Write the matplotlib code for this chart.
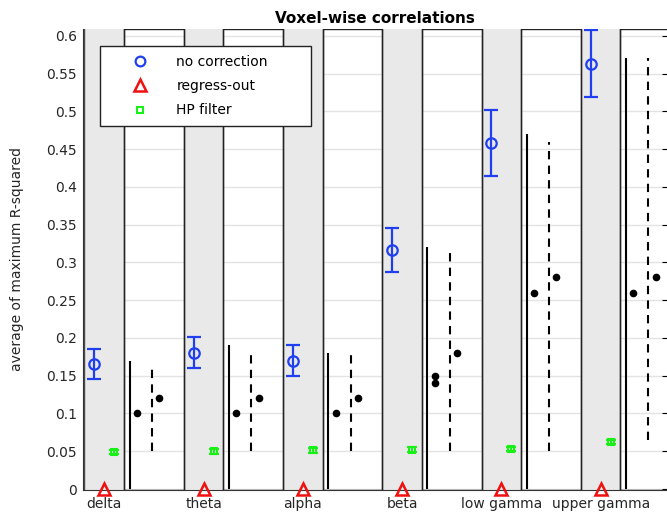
import numpy as np
import matplotlib
matplotlib.use("Agg")
import matplotlib.pyplot as plt
from matplotlib.lines import Line2D

# data
bands = ["delta", "theta", "alpha", "beta", "low gamma", "upper gamma"]

nocorr_mean = [0.165, 0.180, 0.170, 0.316, 0.458, 0.563]
nocorr_low = [0.145, 0.160, 0.150, 0.287, 0.414, 0.519]
nocorr_high = [0.185, 0.201, 0.190, 0.345, 0.502, 0.607]

regress_mean = [0.0, 0.0, 0.0, 0.0, 0.0, 0.0]

hp_mean = [0.049, 0.050, 0.051, 0.052, 0.053, 0.062]
hp_err = [0.003, 0.003, 0.003, 0.003, 0.003, 0.003]

solid_top = [0.17, 0.19, 0.18, 0.32, 0.47, 0.57]
dashed_bottom = [0.05, 0.05, 0.05, 0.05, 0.05, 0.065]
dashed_top = [0.16, 0.18, 0.18, 0.32, 0.46, 0.57]
dots_a = [[0.10], [0.10], [0.10], [0.14, 0.15], [0.26], [0.26]]
dots_b = [0.12, 0.12, 0.12, 0.18, 0.28, 0.28]

ytick_vals = [0, 0.05, 0.1, 0.15, 0.2, 0.25, 0.3, 0.35, 0.4, 0.45, 0.5, 0.55, 0.6]
ytick_labels = ["0", "0.05", "0.1", "0.15", "0.2", "0.25", "0.3", "0.35",
                "0.4", "0.45", "0.5", "0.55", "0.6"]

x = np.arange(1, len(bands) + 1)

fig = plt.figure(figsize=(6.67, 5.14), dpi=100)
ax = fig.add_axes([0.1237, 0.0467, 0.878, 0.897])
ax.set_xlim(0.78, 6.68)
ax.set_ylim(-0.0013, 0.609)

ax.grid(axis="y", color="#e3e3e3", linewidth=1, zorder=0)
ax.set_axisbelow(True)

# grey band behind each group, open box to its right
for k in x:
    ax.axvspan(k - 0.2, k + 0.2, ymin=-0.02, ymax=1.05, facecolor="#e9e9e9",
               edgecolor="#4a4a4a", linewidth=1, zorder=1)
    ax.axvspan(k + 0.2, k + 0.8, ymin=0, ymax=1, facecolor="none",
               edgecolor="#222222", linewidth=1, zorder=1.5)

blue = "#1f3ff0"
red = "#f01010"
green = "#18f018"

yerr = [np.array(nocorr_mean) - np.array(nocorr_low),
        np.array(nocorr_high) - np.array(nocorr_mean)]
ax.errorbar(x - 0.1, nocorr_mean, yerr=yerr, fmt="o", color=blue, mfc="none",
            mec=blue, ms=7.5, mew=1.6, elinewidth=1.6, capsize=5, capthick=1.6,
            zorder=4)
ax.plot(x, regress_mean, "^", color=red, mfc="none", mec=red, ms=9, mew=1.8,
        zorder=5, clip_on=False)
ax.errorbar(x + 0.1, hp_mean, yerr=hp_err, fmt="s", color=green, mfc="none",
            mec=green, ms=5, mew=1.5, elinewidth=1.5, capsize=3.5, capthick=1.5,
            zorder=4)

ax.vlines(x + 0.255, 0, solid_top, color="k", linewidth=1.5, zorder=3)
ax.vlines(x + 0.48, dashed_bottom, dashed_top, color="k", linewidth=1.5,
          linestyles=(0, (4, 3)), zorder=3)
for k, vals in zip(x, dots_a):
    ax.plot([k + 0.33] * len(vals), vals, "o", color="k", ms=4.5, zorder=3)
ax.plot(x + 0.555, dots_b, "o", color="k", ms=4.5, zorder=3)

ax.set_xticks(x)
ax.set_xticklabels(bands, fontsize=10, color="#262626")
ax.set_yticks(ytick_vals)
ax.set_yticklabels(ytick_labels, fontsize=10, color="#262626")
ax.tick_params(axis="y", direction="in", right=True, length=4, pad=4)
ax.tick_params(axis="x", direction="in", length=0, pad=5)
ax.spines["top"].set_visible(False)
ax.spines["right"].set_visible(False)
ax.spines["left"].set_color("#333333")
ax.spines["bottom"].set_color("#333333")

ax.set_ylabel("average of maximum R-squared", fontsize=10, color="#262626",
              labelpad=16)
ax.set_title("Voxel-wise correlations", fontsize=11, fontweight="bold", pad=4)

handles = [
    Line2D([], [], ls="none", marker="o", mfc="none", mec=blue, ms=7, mew=1.6),
    Line2D([], [], ls="none", marker="^", mfc="none", mec=red, ms=8.5, mew=1.8),
    Line2D([], [], ls="none", marker="s", mfc="none", mec=green, ms=5, mew=1.5),
]
leg = ax.legend(handles, ["no correction", "regress-out", "HP filter"],
                loc="upper left", bbox_to_anchor=(0.03, 0.964 - 0.176, 0.36, 0.176),
                mode="expand", fontsize=10,
                frameon=True, fancybox=False, framealpha=1, edgecolor="#222222",
                handlelength=4.5, handletextpad=0.35, borderpad=0.65,
                labelspacing=0.75, borderaxespad=0)
leg.get_frame().set_linewidth(1)
leg.set_zorder(10)

fig.savefig("out.png", dpi=100)
